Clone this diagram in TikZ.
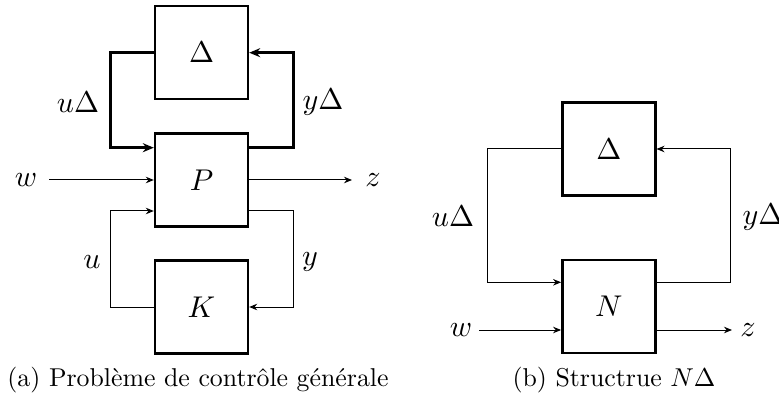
\documentclass[tikz,border=0pt]{standalone}
\usetikzlibrary{arrows.meta}
\newcommand{\mthlbl}[1]{\scalebox{3.0}{$#1$}}
\newcommand{\captext}[1]{\scalebox{2.58}{#1}}
\begin{document}
\begin{tikzpicture}[x=1pt,y=-1pt,
  blk/.style={draw, line width=2.4pt, minimum width=93pt, minimum height=93pt, inner sep=0pt, font=\fontsize{10}{12}\selectfont},
  sig/.style={line width=1pt, -{Stealth[length=8pt,width=6.5pt]}},
  bsig/.style={line width=2.4pt, -{Stealth[length=11pt,width=9pt]}},
  lbl/.style={font=\fontsize{10}{12}\selectfont, inner sep=0pt},
  captxt/.style={font=\fontsize{10}{12}\selectfont, inner sep=0pt, anchor=base}
]
\useasboundingbox (0,0) rectangle (779,398);
% left figure
\node[blk] (D1) at (201.5,52.7) {\mthlbl{\Delta}};
\node[blk] (P) at (201.5,180) {\mthlbl{P}};
\node[blk] (K) at (201.5,307) {\mthlbl{K}};
\draw[bsig] (D1.west) -- ++(-43.5,0) |- ([yshift=32.3pt]P.west);
\draw[bsig] ([yshift=32.3pt]P.east) -- ++(44.3,0) |- (D1.east);
\draw[sig] (K.west) -- ++(-43.5,0) |- ([yshift=-31pt]P.west);
\draw[sig] ([yshift=-31pt]P.east) -- ++(44.3,0) |- (K.east);
\node[lbl] (w1) at (26,180) {\mthlbl{w}};
\coordinate (w1s) at (49,180);
\draw[sig] (w1s) -- (P.west);
\node[lbl] (z1) at (373,180) {\mthlbl{z}};
\coordinate (z1e) at (352,180);
\draw[sig] (P.east) -- (z1e);
\node[lbl] (uD1) at (78,102) {\mthlbl{u\Delta}};
\node[lbl] (yD1) at (323,102) {\mthlbl{y\Delta}};
\node[lbl] (u1) at (92,262) {\mthlbl{u}};
\node[lbl] (y1) at (310,262) {\mthlbl{y}};
\node[captxt] (capa) at (198,386) {\captext{(a) Problème de contrôle générale}};
% right figure
\node[blk] (D2) at (608.8,149) {\mthlbl{\Delta}};
\node[blk] (N) at (608.8,306.7) {\mthlbl{N}};
\draw[sig] (D2.west) -- ++(-74,0) |- ([yshift=24.4pt]N.west);
\draw[sig] ([yshift=24.4pt]N.east) -- ++(74,0) |- (D2.east);
\node[lbl] (w2) at (461,330) {\mthlbl{w}};
\coordinate (w2s) at (479,330);
\draw[sig] (w2s) -- ([yshift=-23.3pt]N.west);
\node[lbl] (z2) at (748,330) {\mthlbl{z}};
\coordinate (z2e) at (732,330);
\draw[sig] ([yshift=-23.3pt]N.east) -- (z2e);
\node[lbl] (uD2) at (453,216.7) {\mthlbl{u\Delta}};
\node[lbl] (yD2) at (763,216.7) {\mthlbl{y\Delta}};
\node[captxt] (capb) at (614,386) {\captext{(b) Structrue $N\Delta$}};
\end{tikzpicture}
\end{document}
